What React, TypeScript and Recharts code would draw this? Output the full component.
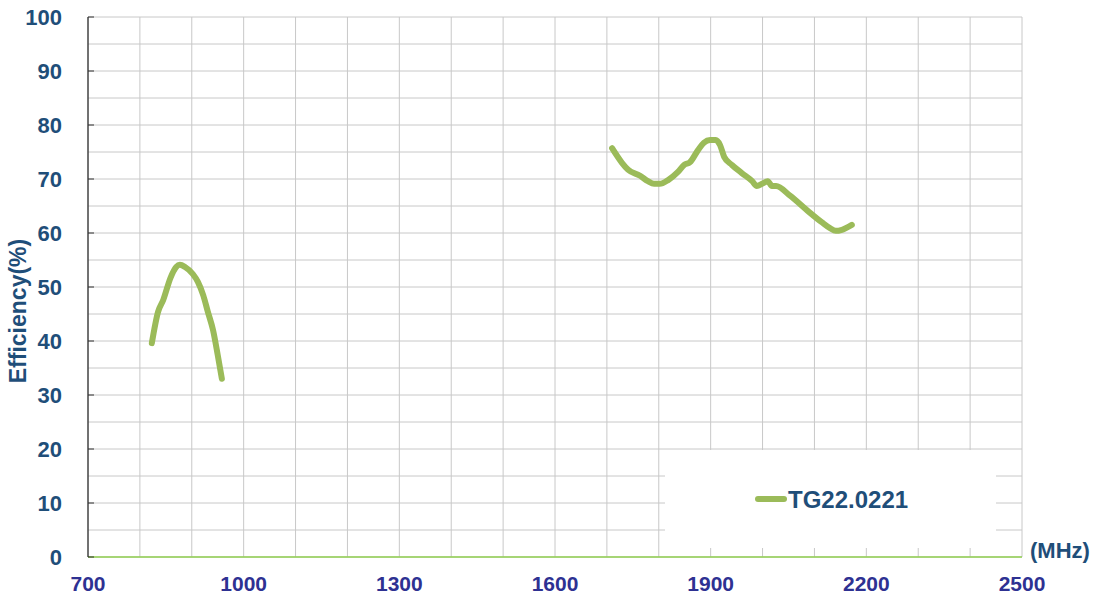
import React from "react";
import { LineChart, Line, XAxis, YAxis, CartesianGrid, Legend } from "recharts";

const lowBandFreq = [823, 835, 845, 859, 870, 877, 887, 902, 912, 922, 931, 941, 950, 958];
const lowBandEff = [39.6, 45.4, 47.6, 51.7, 53.7, 54.1, 53.7, 52.4, 50.9, 48.5, 45.4, 42.0, 37.4, 33.0];

const highBandFreq = [1710, 1729, 1741, 1764, 1779, 1791, 1802, 1818, 1837, 1849, 1860, 1876, 1887, 1899, 1910, 1918, 1926, 1941, 1960, 1980, 1989, 1999, 2010, 2018, 2026, 2053, 2087, 2114, 2130, 2141, 2153, 2172];
const highBandEff = [75.7, 73.0, 71.7, 70.6, 69.6, 69.1, 69.1, 69.8, 71.3, 72.6, 73.1, 75.4, 76.7, 77.2, 77.2, 76.3, 74.1, 72.6, 71.1, 69.6, 68.7, 69.1, 69.6, 68.7, 68.7, 66.9, 64.1, 62.0, 60.9, 60.4, 60.6, 61.5];

const xTicks = [700, 1000, 1300, 1600, 1900, 2200, 2500];
const yTicks = [0, 10, 20, 30, 40, 50, 60, 70, 80, 90, 100];
const xGrid = [700, 800, 900, 1000, 1100, 1200, 1300, 1400, 1500, 1600, 1700, 1800, 1900, 2000, 2100, 2200, 2300, 2400, 2500];
const yGrid = [0, 5, 10, 15, 20, 25, 30, 35, 40, 45, 50, 55, 60, 65, 70, 75, 80, 85, 90, 95, 100];

const seriesName = "TG22.0221";

const lowData = lowBandFreq.map((f, i) => ({ f, eff: lowBandEff[i] }));
const highData = highBandFreq.map((f, i) => ({ f, eff: highBandEff[i] }));

const GREEN = "#9BBB59";
const NAVY = "#1F4E79";
const INDIGO = "#2E3192";
const FONT = "Arial, 'Liberation Sans', sans-serif";

const LegendContent = () => (
  <div
    style={{
      width: 331,
      height: 98,
      background: "#fff",
      position: "relative",
      fontFamily: FONT,
    }}
  >
    <div
      style={{
        position: "absolute",
        left: 90,
        top: 46,
        width: 32,
        height: 6,
        borderRadius: 3,
        background: GREEN,
      }}
    />
    <div
      style={{
        position: "absolute",
        left: 123,
        top: 38,
        fontSize: 24,
        fontWeight: 700,
        color: NAVY,
        lineHeight: "24px",
        whiteSpace: "nowrap",
      }}
    >
      {seriesName}
    </div>
  </div>
);

export default function App() {
  return (
    <div style={{ position: "absolute", left: 0, top: 0, width: 1095, height: 599, background: "#fff" }}>
      <LineChart
        width={1095}
        height={599}
        margin={{ top: 17, right: 73, bottom: 12, left: 28 }}
      >
        <CartesianGrid
          stroke="#c8c8c8"
          strokeWidth={1}
          horizontalValues={yGrid}
          verticalValues={xGrid}
        />
        <XAxis
          type="number"
          dataKey="f"
          domain={[700, 2500]}
          ticks={xTicks}
          allowDataOverflow
          height={30}
          axisLine={{ stroke: "#92D050", strokeWidth: 1.5 }}
          tickLine={false}
          tickSize={0}
          tickMargin={19}
          tick={{ fill: INDIGO, fontSize: 21, fontWeight: 700, fontFamily: FONT }}
          label={{
            content: (props: any) => {
              const vb = props.viewBox || {};
              return (
                <text
                  x={vb.x + vb.width + 8}
                  y={vb.y + 1}
                  fill={NAVY}
                  fontSize={22}
                  fontWeight={700}
                  fontFamily={FONT}
                >
                  (MHz)
                </text>
              );
            },
          }}
        />
        <YAxis
          type="number"
          domain={[0, 100]}
          ticks={yTicks}
          width={60}
          axisLine={{ stroke: "#000", strokeWidth: 1 }}
          tickLine={{ stroke: "#333", strokeWidth: 1 }}
          tickSize={-6}
          tickMargin={32}
          tick={{ fill: NAVY, fontSize: 22, fontWeight: 700, fontFamily: FONT }}
          label={{
            content: (props: any) => {
              const vb = props.viewBox || {};
              const cx = 18;
              const cy = vb.y + vb.height / 2 + 24;
              return (
                <text
                  x={cx}
                  y={cy}
                  transform={`rotate(-90, ${cx}, ${cy})`}
                  textAnchor="middle"
                  dominantBaseline="central"
                  fill={NAVY}
                  fontSize={23}
                  fontWeight={700}
                  fontFamily={FONT}
                >
                  Efficiency(%)
                </text>
              );
            },
          }}
        />
        <Legend
          layout="vertical"
          align="center"
          verticalAlign="middle"
          content={<LegendContent />}
          wrapperStyle={{ position: "absolute", left: 665, top: 450, width: 331, height: 98 }}
        />
        <Line
          data={lowData}
          dataKey="eff"
          name={seriesName}
          type="monotone"
          stroke={GREEN}
          strokeWidth={6}
          strokeLinecap="round"
          strokeLinejoin="round"
          dot={false}
          activeDot={false}
          isAnimationActive={false}
        />
        <Line
          data={highData}
          dataKey="eff"
          name={seriesName + " "}
          legendType="none"
          type="monotone"
          stroke={GREEN}
          strokeWidth={6}
          strokeLinecap="round"
          strokeLinejoin="round"
          dot={false}
          activeDot={false}
          isAnimationActive={false}
        />
      </LineChart>
    </div>
  );
}
